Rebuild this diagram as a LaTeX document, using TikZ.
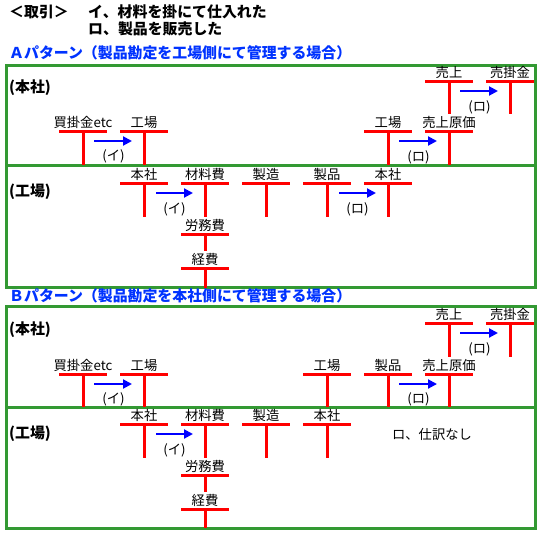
\documentclass[tikz,border=0pt]{standalone}
\usepackage{fontspec}
\setmainfont{Noto Sans CJK JP}
\usetikzlibrary{arrows.meta,calc}
\definecolor{framegreen}{RGB}{51,153,51}
\definecolor{headblue}{RGB}{0,51,255}
% T account: name, x, y of bar, label, length of leg
\newcommand{\tacct}[5]{%
  \node[acct] (#1) at (#2,#3-3.5) {#4};
  \coordinate (#1-t) at (#2,#3);
  \draw[bar] (#2-24,#3) -- (#2+24,#3);
  \draw[bar] (#2,#3) -- (#2,#3+#5);
}
\begin{document}
\begin{tikzpicture}[x=1pt,y=-1pt,
    frame/.style={framegreen,line width=3},
    bar/.style={red,line width=3},
    flow/.style={blue,line width=2,-{Triangle[length=9pt,width=9pt]}},
    acct/.style={anchor=base,inner sep=0,font=\fontsize{13.3}{13}\selectfont},
    note/.style={inner sep=0,font=\fontsize{13.3}{13}\selectfont},
    head/.style={anchor=west,inner sep=0,font=\bfseries\fontsize{14.9}{15}\selectfont}]
    \useasboundingbox (0,0) rectangle (543,536);
    \node[head] (deal) at (9,12) {＜取引＞};
    \node[head] (dealI) at (88,12) {イ、材料を掛にて仕入れた};
    \node[head] (dealRo) at (88,29) {ロ、製品を販売した};

    % A pattern
    \node[head,headblue] (patA) at (9,53) {Ａパターン（製品勘定を工場側にて管理する場合）};
    \draw[frame] (6,65) rectangle (535,287);
    \draw[frame] (6,165) -- (535,165);
    \node[head] (honA) at (9,88) {(本社)};
    \node[head] (kojA) at (9,192) {(工場)};
    \tacct{a-uri}{449}{81}{売上}{33}
    \tacct{a-urikake}{510}{81}{売掛金}{33}
    \tacct{a-kai}{83}{131}{買掛金etc}{34}
    \tacct{a-koj}{144}{131}{工場}{34}
    \tacct{a-koj2}{388}{131}{工場}{34}
    \tacct{a-genka}{449}{131}{売上原価}{34}
    \draw[flow] ($(a-uri-t)+(11,10)$) -- ($(a-urikake-t)+(-12,10)$);
    \node[note] (a-ro1) at ($(a-uri-t)!0.5!(a-urikake-t)+(0,26)$) {(ロ)};
    \draw[flow] ($(a-kai-t)+(11,10)$) -- ($(a-koj-t)+(-12,10)$);
    \node[note] (a-i1) at ($(a-kai-t)!0.5!(a-koj-t)+(0,25)$) {(イ)};
    \draw[flow] ($(a-koj2-t)+(11,10)$) -- ($(a-genka-t)+(-12,10)$);
    \node[note] (a-ro2) at ($(a-koj2-t)!0.5!(a-genka-t)+(0,26)$) {(ロ)};
    \tacct{a-hon}{144}{183}{本社}{34}
    \tacct{a-zai}{205}{183}{材料費}{34}
    \tacct{a-sei}{266}{183}{製造}{34}
    \tacct{a-seihin}{327}{183}{製品}{34}
    \tacct{a-hon2}{388}{183}{本社}{34}
    \tacct{a-rou}{205}{234}{労務費}{17}
    \tacct{a-kei}{205}{268}{経費}{20}
    \draw[flow] ($(a-hon-t)+(12,10)$) -- ($(a-zai-t)+(-12,10)$);
    \node[note] (a-i2) at ($(a-hon-t)!0.5!(a-zai-t)+(0,26)$) {(イ)};
    \draw[flow] ($(a-seihin-t)+(12,10)$) -- ($(a-hon2-t)+(-12,10)$);
    \node[note] (a-ro3) at ($(a-seihin-t)!0.5!(a-hon2-t)+(0,26)$) {(ロ)};

    % B pattern
    \node[head,headblue] (patB) at (9,296) {Ｂパターン（製品勘定を本社側にて管理する場合）};
    \draw[frame] (6,306) rectangle (535,528);
    \draw[frame] (6,407) -- (535,407);
    \node[head] (honB) at (9,330) {(本社)};
    \node[head] (kojB) at (9,434) {(工場)};
    \tacct{b-uri}{449}{323}{売上}{34}
    \tacct{b-urikake}{510}{323}{売掛金}{34}
    \tacct{b-kai}{83}{374}{買掛金etc}{33}
    \tacct{b-koj}{144}{374}{工場}{33}
    \tacct{b-koj2}{327}{374}{工場}{33}
    \tacct{b-seihin}{388}{374}{製品}{33}
    \tacct{b-genka}{449}{374}{売上原価}{33}
    \draw[flow] ($(b-uri-t)+(11,10)$) -- ($(b-urikake-t)+(-12,10)$);
    \node[note] (b-ro1) at ($(b-uri-t)!0.5!(b-urikake-t)+(0,26)$) {(ロ)};
    \draw[flow] ($(b-kai-t)+(11,10)$) -- ($(b-koj-t)+(-12,10)$);
    \node[note] (b-i1) at ($(b-kai-t)!0.5!(b-koj-t)+(0,25)$) {(イ)};
    \draw[flow] ($(b-seihin-t)+(11,10)$) -- ($(b-genka-t)+(-12,10)$);
    \node[note] (b-ro2) at ($(b-seihin-t)!0.5!(b-genka-t)+(0,25)$) {(ロ)};
    \tacct{b-hon}{144}{424}{本社}{34}
    \tacct{b-zai}{205}{424}{材料費}{34}
    \tacct{b-sei}{266}{424}{製造}{34}
    \tacct{b-hon2}{327}{424}{本社}{34}
    \tacct{b-rou}{205}{475}{労務費}{17}
    \tacct{b-kei}{205}{509}{経費}{19}
    \draw[flow] ($(b-hon-t)+(12,10)$) -- ($(b-zai-t)+(-12,10)$);
    \node[note] (b-i2) at ($(b-hon-t)!0.5!(b-zai-t)+(0,26)$) {(イ)};
    \node[note] (b-none) at (432,434) {ロ、仕訳なし};
\end{tikzpicture}
\end{document}
